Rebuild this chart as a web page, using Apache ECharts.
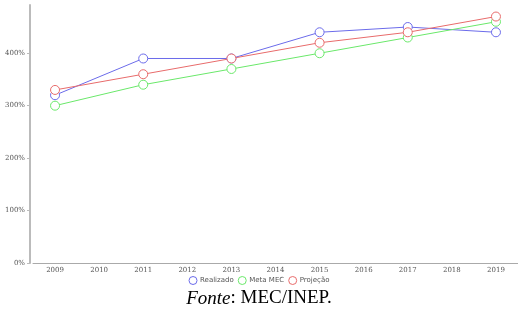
<!DOCTYPE html>
<html><head><meta charset="utf-8">
<script src="https://cdn.jsdelivr.net/npm/echarts@6/dist/echarts.min.js"></script>
<style>html,body{margin:0;padding:0;background:#fff}#c{width:518px;height:311px}</style>
</head><body><div id="c"></div>
<script>
const years = ['2009','2010','2011','2012','2013','2014','2015','2016','2017','2018','2019'];
const realizado = [320, null, 390, null, 390, null, 440, null, 450, null, 440];
const metaMEC   = [300, null, 340, null, 370, null, 400, null, 430, null, 460];
const projecao  = [330, null, 360, null, 390, null, 420, null, 440, null, 470];
const yTicks = [0, 100, 200, 300, 400];
const seriesNames = ['Realizado', 'Meta MEC', 'Projeção'];
const colors = ['#6b6bea', '#6ae86a', '#e86b6b'];

const chart = echarts.init(document.getElementById('c'));
const mk = (name, data, color) => ({
  name, type: 'line', data, connectNulls: true,
  symbol: 'circle', symbolSize: 9,
  itemStyle: { color: '#fff', borderColor: color, borderWidth: 1 },
  lineStyle: { color, width: 1 }
});
chart.setOption({
  animation: false,
  color: colors,
  grid: { left: 33, right: -3, top: 5, bottom: 48, containLabel: false },
  title: {
    text: '{i|Fonte}: MEC/INEP.',
    left: 'center', top: 284,
    textStyle: {
      fontFamily: 'Liberation Serif', fontSize: 19, fontWeight: 'normal', color: '#000',
      rich: { i: { fontFamily: 'Liberation Serif', fontSize: 19, fontStyle: 'italic', color: '#000' } }
    }
  },
  legend: {
    top: 271, left: 'center', itemWidth: 10, itemHeight: 8, itemGap: 4,
    icon: 'circle',
    textStyle: { fontSize: 7, color: '#555', fontFamily: 'DejaVu Sans', padding: [0,0,0,-3] },
    data: seriesNames.map((n, i) => ({ name: n, itemStyle: { color: '#fff', borderColor: colors[i], borderWidth: 1 } }))
  },
  xAxis: {
    type: 'category', data: years, boundaryGap: true,
    axisLine: { lineStyle: { color: '#aaa' } },
    axisTick: { show: false },
    axisLabel: { fontSize: 7, color: '#555', fontFamily: 'DejaVu Serif', margin: 4 }
  },
  yAxis: {
    type: 'value', min: 0, max: 492, interval: 100, offset: 3,
    axisLine: { show: true, lineStyle: { color: '#bbb', width: 2 } },
    axisTick: { show: true, customValues: yTicks, length: 3, lineStyle: { color: '#bbb' } },
    splitLine: { show: false },
    axisLabel: { customValues: yTicks, fontSize: 7, color: '#555', fontFamily: 'DejaVu Serif', margin: 5,
      formatter: v => v + '%' }
  },
  series: [
    mk(seriesNames[0], realizado, colors[0]),
    mk(seriesNames[1], metaMEC, colors[1]),
    mk(seriesNames[2], projecao, colors[2])
  ]
});
</script></body></html>
